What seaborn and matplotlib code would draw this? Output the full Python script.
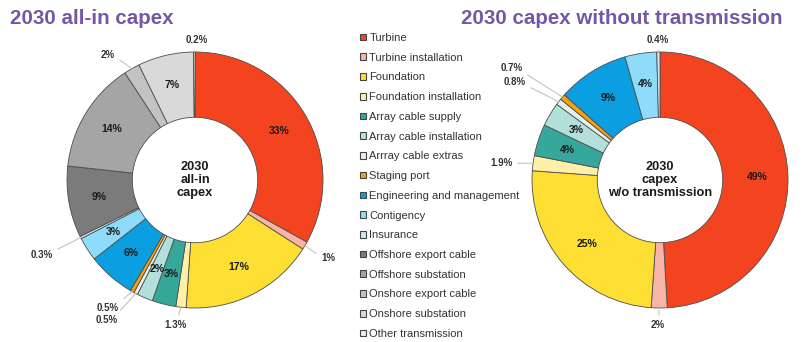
import matplotlib
matplotlib.use("Agg")
import matplotlib.pyplot as plt
from matplotlib.patches import Patch
import numpy as np
import seaborn as sns

# Cost categories (legend order = wedge order, clockwise from 12 o'clock)
categories = [
    "Turbine", "Turbine installation", "Foundation", "Foundation installation",
    "Array cable supply", "Array cable installation", "Arrray cable extras",
    "Staging port", "Engineering and management", "Contigency", "Insurance",
    "Offshore export cable", "Offshore substation", "Onshore export cable",
    "Onshore substation", "Other transmission",
]

# Share of capex, %
all_in_values = [33, 1, 17, 1.3, 3, 2, 0.5, 0.5, 6, 3, 0.3, 9, 14, 2, 7, 0.2]
no_tx_values = [49, 2, 25, 1.9, 4, 3, 0.8, 0.7, 9, 4, 0.4]

palette_hex = [
    "#F4431F", "#F8B4A6", "#FDDE33", "#FEF0A8", "#36A89B", "#B3E0DA",
    "#E3F1EF", "#F6A20C", "#0B9EE0", "#8EDBFA", "#CBE9F4", "#7B7B7B",
    "#A5A5A5", "#C3C3C3", "#D9D9D9", "#EEEEEE",
]

# Small slices labelled outside the ring: index -> text position (radius units)
all_in_outside = {
    1: (1.04, -0.61), 3: (-0.15, -1.135), 6: (-0.69, -1.095),
    7: (-0.68, -1.0), 10: (-1.20, -0.585), 13: (-0.68, 0.975),
    15: (0.015, 1.095),
}
no_tx_outside = {
    1: (-0.015, -1.135), 3: (-1.24, 0.13), 6: (-1.135, 0.765),
    7: (-1.16, 0.875), 10: (-0.015, 1.095),
}

sns.set_theme(style="white")
plt.rcParams["font.family"] = ["Liberation Sans", "DejaVu Sans"]
colors = sns.color_palette(palette_hex)

W, H = 804, 342
R = 128.0  # ring radius in pixels
fig = plt.figure(figsize=(W / 100, H / 100), dpi=100)

TITLE_COLOR = "#7657A5"
EDGE = "#4d4d4d"
LEADER = "#c4c4c4"


def donut(ax_box, cx, cy, values, outside, center_text):
    x0, x1 = ax_box
    ax = fig.add_axes([x0 / W, 0, (x1 - x0) / W, 1])
    wedges, _ = ax.pie(
        values, colors=colors[: len(values)], startangle=90, counterclock=False,
        radius=1.0, wedgeprops=dict(width=0.51, edgecolor=EDGE, linewidth=0.6),
    )
    ax.set_aspect("auto")
    ax.set_xlim((x0 - cx) / R, (x1 - cx) / R)
    ax.set_ylim(-(H - cy) / R, cy / R)
    ax.axis("off")

    for i, (w, v) in enumerate(zip(wedges, values)):
        mid = np.deg2rad((w.theta1 + w.theta2) / 2)
        label = f"{v:g}%"
        if i in outside:
            tx, ty = outside[i]
            ax_, ay_ = np.cos(mid), np.sin(mid)
            if abs(tx - ax_) > 0.08:
                # short horizontal arm out of the label, then to the slice
                arm_dir = 0 if tx < ax_ else 180
                conn = f"arc,angleA={arm_dir},angleB=0,armA=5,armB=0,rad=0"
            else:
                conn = "arc3"
            ax.annotate(
                label, xy=(ax_, ay_), xytext=(tx, ty),
                ha="center", va="center", fontsize=7, fontweight="bold",
                color="#333333",
                arrowprops=dict(arrowstyle="-", color=LEADER, lw=0.8,
                                shrinkA=1.5, shrinkB=0,
                                connectionstyle=conn),
            )
        else:
            r = 0.76
            ax.text(r * np.cos(mid), r * np.sin(mid), label, ha="center",
                    va="center", fontsize=7.5, fontweight="bold",
                    color="#1a1a1a")

    ax.text(0, 0, center_text, ha="center", va="center", fontsize=9.2,
            fontweight="bold", color="#1a1a1a", linespacing=1.15)
    return wedges


donut((0, 330), 195, 180, all_in_values, all_in_outside,
      "2030\nall-in\ncapex")
donut((480, 804), 660, 180, no_tx_values, no_tx_outside,
      "2030\ncapex\nw/o transmission")

fig.text(10 / W, 1 - 18 / H, "2030 all-in capex", ha="left", va="center",
         fontsize=14.8, fontweight="bold", color=TITLE_COLOR)
fig.text(783 / W, 1 - 18 / H, "2030 capex without transmission", ha="right",
         va="center", fontsize=14.8, fontweight="bold", color=TITLE_COLOR)

handles = [Patch(facecolor=c, edgecolor="#444444", linewidth=0.8)
           for c in colors]
fig.legend(
    handles, categories, loc="upper left",
    bbox_to_anchor=(360 / W, 1 - 33 / H), bbox_transform=fig.transFigure,
    frameon=False, fontsize=8, handlelength=0.55, handleheight=0.55,
    handletextpad=0.3, labelspacing=0.875, borderpad=0, borderaxespad=0,
    labelcolor="#333333",
)

fig.savefig("out.png", dpi=100)
